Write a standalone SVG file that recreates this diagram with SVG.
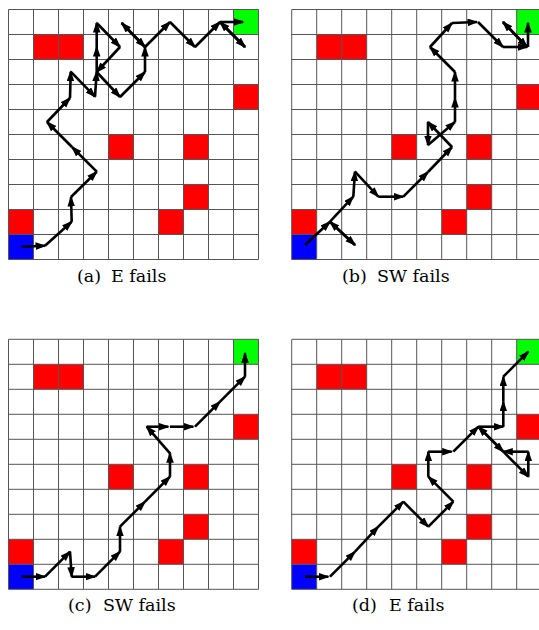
<svg xmlns="http://www.w3.org/2000/svg" width="539" height="630" viewBox="0 0 539 630">
<style>
.bg{fill:#ffffff}
.grid{fill:none;stroke:#555;stroke-width:1}
.obs{fill:#ff0000}
.start{fill:#0000ff}
.goal{fill:#00ff00}
.arr line{stroke:#000;stroke-width:2.6;marker-end:url(#ah)}
.cap{font-family:"DejaVu Serif","Liberation Serif",serif;font-size:17.5px;fill:#000}
</style>
<defs>
<marker id="ah" markerUnits="userSpaceOnUse" markerWidth="13" markerHeight="10" refX="9.5" refY="3.8" orient="auto">
<path d="M0,0 L11,3.8 L0,7.6 z" fill="#000"/>
</marker>
<g id="cells">
<rect class="bg" x="0" y="0" width="250" height="250"/>
<rect class="obs" x="25" y="25" width="50" height="25"/>
<rect class="obs" x="225" y="75" width="25" height="25"/>
<rect class="obs" x="100" y="125" width="25" height="25"/>
<rect class="obs" x="175" y="125" width="25" height="25"/>
<rect class="obs" x="175" y="175" width="25" height="25"/>
<rect class="obs" x="150" y="200" width="25" height="25"/>
<rect class="obs" x="0" y="200" width="25" height="25"/>
<rect class="start" x="0" y="225" width="25" height="25"/>
<rect class="goal" x="225" y="0" width="25" height="25"/>
<path class="grid" d="M0,0H250M0,25H250M0,50H250M0,75H250M0,100H250M0,125H250M0,150H250M0,175H250M0,200H250M0,225H250M0,250H250M0,0V250M25,0V250M50,0V250M75,0V250M100,0V250M125,0V250M150,0V250M175,0V250M200,0V250M225,0V250M250,0V250"/>
</g>
</defs>
<g id="grid-a"><use href="#cells" x="8.5" y="9.5"/></g>
<g id="grid-b"><use href="#cells" x="291.7" y="9.5"/></g>
<g id="grid-c"><use href="#cells" x="8.5" y="339.3"/></g>
<g id="grid-d"><use href="#cells" x="291.7" y="339.3"/></g>
<g id="connectors" class="arr">
<!-- a -->
<line x1="21.7" y1="246.7" x2="45" y2="245.7"/>
<line x1="45" y1="245.7" x2="71.7" y2="221.7"/>
<line x1="71.7" y1="221.7" x2="71" y2="197"/>
<line x1="71" y1="197" x2="96.7" y2="171.7"/>
<line x1="96.7" y1="171.7" x2="72" y2="147"/>
<line x1="72" y1="147" x2="47" y2="122"/>
<line x1="47" y1="122" x2="70" y2="98"/>
<line x1="70" y1="98" x2="70.7" y2="71.7"/>
<line x1="70.7" y1="71.7" x2="95" y2="96.7"/>
<line x1="95" y1="96.7" x2="96.7" y2="71.7"/>
<line x1="96.7" y1="71.7" x2="96.7" y2="47"/>
<line x1="96.7" y1="47" x2="96.7" y2="23"/>
<line x1="96.7" y1="23" x2="120" y2="47"/>
<line x1="120" y1="47" x2="96.7" y2="72"/>
<line x1="96.7" y1="72" x2="120" y2="97"/>
<line x1="120" y1="97" x2="145" y2="72"/>
<line x1="145" y1="72" x2="145" y2="47"/>
<line x1="145" y1="47" x2="121.7" y2="23"/>
<line x1="121.7" y1="23" x2="145" y2="47"/>
<line x1="145" y1="47" x2="170" y2="22"/>
<line x1="170" y1="22" x2="195" y2="47"/>
<line x1="195" y1="47" x2="220" y2="22"/>
<line x1="220" y1="22" x2="245" y2="47"/>
<line x1="245" y1="47" x2="220" y2="22"/>
<line x1="220" y1="22" x2="243" y2="22"/>
<!-- b -->
<line x1="305" y1="245" x2="330" y2="221.7"/>
<line x1="330" y1="221.7" x2="355" y2="245"/>
<line x1="355" y1="245" x2="330" y2="221.7"/>
<line x1="330" y1="221.7" x2="353.3" y2="196.7"/>
<line x1="353.3" y1="196.7" x2="355" y2="171.7"/>
<line x1="355" y1="171.7" x2="378.3" y2="196.7"/>
<line x1="378.3" y1="196.7" x2="403.3" y2="196.7"/>
<line x1="403.3" y1="196.7" x2="428" y2="172"/>
<line x1="428" y1="172" x2="452" y2="147"/>
<line x1="452" y1="147" x2="428" y2="122"/>
<line x1="428" y1="122" x2="428" y2="145"/>
<line x1="428" y1="145" x2="455" y2="122"/>
<line x1="455" y1="122" x2="455" y2="98"/>
<line x1="455" y1="98" x2="455" y2="72"/>
<line x1="455" y1="72" x2="430" y2="47"/>
<line x1="430" y1="47" x2="452" y2="23"/>
<line x1="452" y1="23" x2="477" y2="22"/>
<line x1="478" y1="22" x2="503" y2="47"/>
<line x1="503" y1="47" x2="527" y2="47"/>
<line x1="527" y1="47" x2="503" y2="22"/>
<line x1="503" y1="22" x2="527" y2="47"/>
<line x1="528" y1="47" x2="528" y2="23"/>
<!-- c -->
<line x1="21.7" y1="576.7" x2="45" y2="576.7"/>
<line x1="45" y1="576.7" x2="70" y2="551.7"/>
<line x1="70" y1="551.7" x2="71.7" y2="576.7"/>
<line x1="71.7" y1="576.7" x2="95" y2="576.7"/>
<line x1="95" y1="576.7" x2="120" y2="551.7"/>
<line x1="120" y1="551.7" x2="120" y2="526.7"/>
<line x1="120" y1="526.7" x2="145" y2="501.7"/>
<line x1="145" y1="501.7" x2="170" y2="476.7"/>
<line x1="170" y1="476.7" x2="170" y2="453.3"/>
<line x1="170" y1="453.3" x2="146.7" y2="426.7"/>
<line x1="146.7" y1="426.7" x2="168.3" y2="426.7"/>
<line x1="170" y1="426.7" x2="193.3" y2="426.7"/>
<line x1="195" y1="426.7" x2="220" y2="401.7"/>
<line x1="220" y1="401.7" x2="245" y2="376.7"/>
<line x1="245" y1="376.7" x2="245" y2="353.3"/>
<!-- d -->
<line x1="305" y1="576.7" x2="328.3" y2="576.7"/>
<line x1="330" y1="576.7" x2="355" y2="551.7"/>
<line x1="355" y1="551.7" x2="378.3" y2="526.7"/>
<line x1="378.3" y1="526.7" x2="403.3" y2="501.7"/>
<line x1="403.3" y1="501.7" x2="428.3" y2="526.7"/>
<line x1="428.3" y1="526.7" x2="453.3" y2="501.7"/>
<line x1="453.3" y1="501.7" x2="428.3" y2="476.7"/>
<line x1="428.3" y1="476.7" x2="428.3" y2="451.7"/>
<line x1="428.3" y1="451.7" x2="451.7" y2="451.7"/>
<line x1="453.3" y1="451.7" x2="478.3" y2="426.7"/>
<line x1="478.3" y1="426.7" x2="503.3" y2="451.7"/>
<line x1="503.3" y1="451.7" x2="528.3" y2="476.7"/>
<line x1="528.3" y1="476.7" x2="528.3" y2="451.7"/>
<line x1="528.3" y1="451.7" x2="503.3" y2="451.7"/>
<line x1="503.3" y1="451.7" x2="478.3" y2="426.7"/>
<line x1="478.3" y1="426.7" x2="503.3" y2="426.7"/>
<line x1="503.3" y1="426.7" x2="503.3" y2="401.7"/>
<line x1="503.3" y1="401.7" x2="503.3" y2="376.7"/>
<line x1="503.3" y1="376.7" x2="528.3" y2="351.7"/>
</g>
<g id="captions" class="cap">
<text x="77" y="282">(a)<tspan x="111">E fails</tspan></text>
<text x="342" y="282">(b)<tspan x="377">SW fails</tspan></text>
<text x="68" y="611">(c)<tspan x="103">SW fails</tspan></text>
<text x="352" y="611">(d)<tspan x="389">E fails</tspan></text>
</g>
</svg>
